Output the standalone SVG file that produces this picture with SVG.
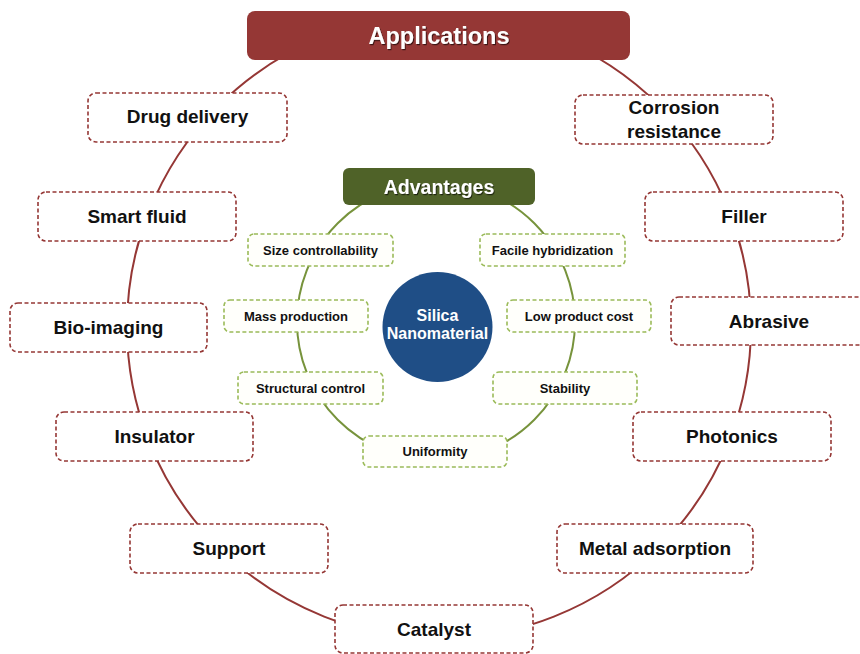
<svg xmlns="http://www.w3.org/2000/svg" width="860" height="654" viewBox="0 0 860 654">
  <defs>
    <filter id="txtShadow" x="-10%" y="-30%" width="120%" height="160%">
      <feDropShadow dx="1" dy="1.2" stdDeviation="0.7" flood-color="#000" flood-opacity="0.6"/>
    </filter>
  </defs>
  <style>
    text { font-family: "Liberation Sans", Arial, sans-serif; font-weight: bold; text-anchor: middle; }
    .app-box { fill: #ffffff; stroke: #953735; stroke-width: 1.6; stroke-dasharray: 4 2.5; }
    .adv-box { fill: #fffffb; stroke: #9bbb59; stroke-width: 1.6; stroke-dasharray: 4 2.5; }
    .app-txt { font-size: 19px; fill: #111111; }
    .adv-txt { font-size: 13px; fill: #111111; }
    .head-txt { fill: #ffffff; filter: url(#txtShadow); }
    .ring-app { fill: none; stroke: #953735; stroke-width: 2; }
    .ring-adv { fill: none; stroke: #77933c; stroke-width: 2; }
  </style>
  <rect width="860" height="654" fill="#ffffff"/>

  <!-- rings linking the nodes -->
  <g id="connectors">
    <circle class="ring-app" cx="439" cy="326.5" r="312"/>
    <circle class="ring-adv" cx="436" cy="321.5" r="139"/>
  </g>

  <!-- outer ring: applications -->
  <g id="applications">
    <rect x="247" y="11" width="383" height="49" rx="8" fill="#953735"/>
    <text class="head-txt" x="439" y="44" font-size="23.5">Applications</text>
  </g>
  <g id="drug-delivery">
    <rect class="app-box" x="88" y="93" width="199" height="49" rx="8"/>
    <text class="app-txt" x="187.5" y="123">Drug delivery</text>
  </g>
  <g id="corrosion-resistance">
    <rect class="app-box" x="575" y="95" width="198" height="49" rx="8"/>
    <text class="app-txt" x="674" y="114">Corrosion</text>
    <text class="app-txt" x="674" y="138">resistance</text>
  </g>
  <g id="smart-fluid">
    <rect class="app-box" x="38" y="192" width="198" height="49" rx="8"/>
    <text class="app-txt" x="137" y="223">Smart fluid</text>
  </g>
  <g id="filler">
    <rect class="app-box" x="645" y="192" width="198" height="49" rx="8"/>
    <text class="app-txt" x="744" y="223">Filler</text>
  </g>
  <g id="bio-imaging">
    <rect class="app-box" x="10" y="303" width="197" height="49" rx="8"/>
    <text class="app-txt" x="108.5" y="334">Bio-imaging</text>
  </g>
  <g id="abrasive">
    <rect class="app-box" x="671" y="297" width="198" height="48" rx="8"/>
    <text class="app-txt" x="769" y="328">Abrasive</text>
  </g>
  <g id="insulator">
    <rect class="app-box" x="56" y="412" width="197" height="49" rx="8"/>
    <text class="app-txt" x="154.5" y="443">Insulator</text>
  </g>
  <g id="photonics">
    <rect class="app-box" x="633" y="412" width="198" height="49" rx="8"/>
    <text class="app-txt" x="732" y="443">Photonics</text>
  </g>
  <g id="support">
    <rect class="app-box" x="130" y="524" width="198" height="49" rx="8"/>
    <text class="app-txt" x="229" y="555">Support</text>
  </g>
  <g id="metal-adsorption">
    <rect class="app-box" x="557" y="524" width="196" height="49" rx="8"/>
    <text class="app-txt" x="655" y="555">Metal adsorption</text>
  </g>
  <g id="catalyst">
    <rect class="app-box" x="335" y="605" width="198" height="48" rx="8"/>
    <text class="app-txt" x="434" y="636">Catalyst</text>
  </g>

  <!-- inner ring: advantages -->
  <g id="advantages">
    <rect x="343" y="168" width="192" height="37" rx="6" fill="#4f6228"/>
    <text class="head-txt" x="439" y="194" font-size="19.5">Advantages</text>
  </g>
  <g id="size-controllability">
    <rect class="adv-box" x="248" y="234" width="145" height="32" rx="6"/>
    <text class="adv-txt" x="320.5" y="254.5">Size controllability</text>
  </g>
  <g id="facile-hybridization">
    <rect class="adv-box" x="480" y="234" width="145" height="32" rx="6"/>
    <text class="adv-txt" x="552.5" y="254.5">Facile hybridization</text>
  </g>
  <g id="mass-production">
    <rect class="adv-box" x="224" y="300" width="144" height="32" rx="6"/>
    <text class="adv-txt" x="296" y="320.5">Mass production</text>
  </g>
  <g id="low-product-cost">
    <rect class="adv-box" x="507" y="300" width="144" height="32" rx="6"/>
    <text class="adv-txt" x="579" y="320.5">Low product cost</text>
  </g>
  <g id="structural-control">
    <rect class="adv-box" x="238" y="372" width="145" height="32" rx="6"/>
    <text class="adv-txt" x="310.5" y="392.5">Structural control</text>
  </g>
  <g id="stability">
    <rect class="adv-box" x="493" y="372" width="144" height="32" rx="6"/>
    <text class="adv-txt" x="565" y="392.5">Stability</text>
  </g>
  <g id="uniformity">
    <rect class="adv-box" x="363" y="436" width="144" height="31" rx="6"/>
    <text class="adv-txt" x="435" y="455.5">Uniformity</text>
  </g>

  <!-- centre -->
  <g id="silica-nanomaterial">
    <circle cx="437.5" cy="327" r="55" fill="#1f4e86"/>
    <text x="437.5" y="321" font-size="16" fill="#ffffff">Silica</text>
    <text x="437.5" y="339" font-size="16" fill="#ffffff">Nanomaterial</text>
  </g>
</svg>
